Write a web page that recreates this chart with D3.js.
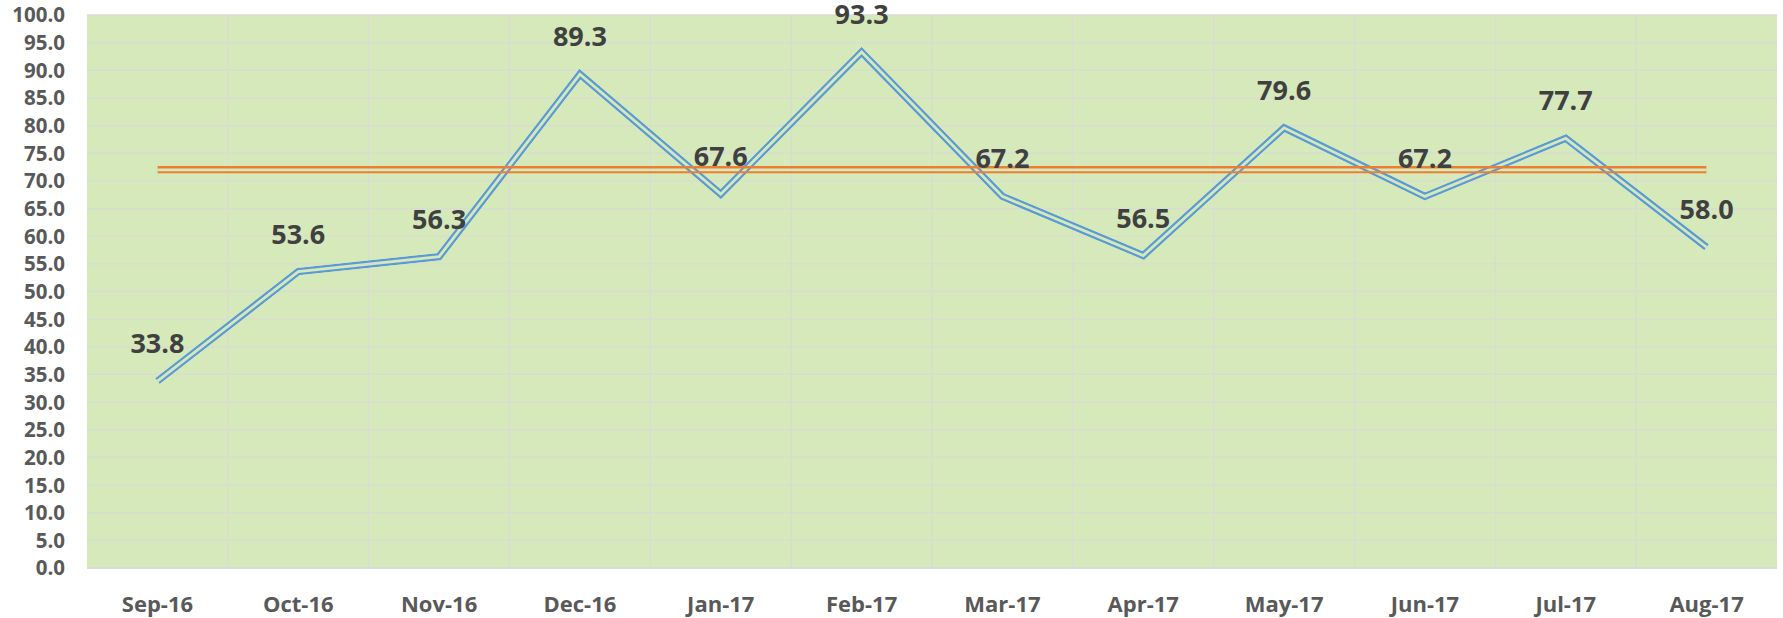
<!DOCTYPE html>
<html>
<head>
<meta charset="utf-8">
<script src="https://cdn.jsdelivr.net/npm/d3@7"></script>
<style>
  html, body { margin: 0; padding: 0; background: #ffffff; }
  svg { display: block; }
</style>
</head>
<body>
<svg id="chart" width="1783" height="618"></svg>
<script>
const categories = ["Sep-16","Oct-16","Nov-16","Dec-16","Jan-17","Feb-17","Mar-17","Apr-17","May-17","Jun-17","Jul-17","Aug-17"];
const values = [33.8, 53.6, 56.3, 89.3, 67.6, 93.3, 67.2, 56.5, 79.6, 67.2, 77.7, 58.0];
const targetValue = 72.0;
const yTicks = d3.range(0, 100.01, 5);

const W = 1783, H = 618;
const margin = {left: 87, top: 15, right: 6, bottom: 50};
const bg = "#d5e9bb";
const svg = d3.select("#chart");

const x = d3.scaleBand().domain(categories).range([margin.left, W - margin.right]).paddingInner(0).paddingOuter(0);
const y = d3.scaleLinear().domain([0, 100]).range([H - margin.bottom, margin.top]);
const cx = d => x(d) + x.bandwidth() / 2;

// plot background
svg.append("rect")
  .attr("x", x.range()[0]).attr("y", y(100))
  .attr("width", x.range()[1] - x.range()[0]).attr("height", y(0) - y(100))
  .attr("fill", bg);

// horizontal gridlines
svg.append("g").selectAll("line").data(yTicks).join("line")
  .attr("x1", x.range()[0]).attr("x2", x.range()[1])
  .attr("y1", d => y(d)).attr("y2", d => y(d))
  .attr("stroke", "#d9dcd2").attr("stroke-width", 1.3);

// vertical gridlines at category boundaries
svg.append("g").selectAll("line").data(categories.slice(1)).join("line")
  .attr("x1", d => x(d)).attr("x2", d => x(d))
  .attr("y1", y(0)).attr("y2", y(100))
  .attr("stroke", "#d9dcd2").attr("stroke-width", 1.3);

// bottom axis line
svg.append("line")
  .attr("x1", x.range()[0]).attr("x2", x.range()[1])
  .attr("y1", y(0)).attr("y2", y(0))
  .attr("stroke", "#d9d9d9").attr("stroke-width", 1.3);

// Y axis
const yAxis = d3.axisLeft(y).tickValues(yTicks).tickFormat(d3.format(".1f")).tickSize(0).tickPadding(22);
const gy = svg.append("g").attr("transform", `translate(${margin.left},0)`).call(yAxis);
gy.select(".domain").remove();
gy.selectAll("text")
  .attr("font-family", "'Open Sans', sans-serif").attr("font-weight", "bold")
  .attr("font-size", "20.5px").attr("fill", "#595959").attr("dy", "0.34em");

// X axis
const xAxis = d3.axisBottom(x).tickSize(0).tickPadding(28);
const gx = svg.append("g").attr("transform", `translate(0,${y(0)})`).call(xAxis);
gx.select(".domain").remove();
gx.selectAll("text")
  .attr("font-family", "'Open Sans', sans-serif").attr("font-weight", "bold")
  .attr("font-size", "22px").attr("fill", "#595959");

const defs = svg.append("defs");
const line = d3.line().x((d, i) => cx(categories[i])).y(d => y(d)).curve(d3.curveLinear);
const pathD = line(values);
const tX1 = cx(categories[0]), tX2 = cx(categories[categories.length - 1]);
const targetD = `M${tX1},${y(targetValue)}H${tX2}`;

// masks for compound (double) lines
function doubleMask(id, d) {
  const m = defs.append("mask").attr("id", id).attr("maskUnits", "userSpaceOnUse")
    .attr("x", 0).attr("y", 0).attr("width", W).attr("height", H);
  m.append("path").attr("d", d).attr("fill", "none").attr("stroke", "#fff")
    .attr("stroke-width", 7.5).attr("stroke-linejoin", "miter");
  m.append("path").attr("d", d).attr("fill", "none").attr("stroke", "#000")
    .attr("stroke-width", 2.8).attr("stroke-linejoin", "miter");
}
doubleMask("mBlue", pathD);
doubleMask("mOrange", targetD);

svg.append("path").attr("d", pathD).attr("fill", "none")
  .attr("stroke", "#5b9bd5").attr("stroke-width", 7.5).attr("stroke-linejoin", "miter")
  .attr("mask", "url(#mBlue)");

svg.append("path").attr("d", targetD).attr("fill", "none")
  .attr("stroke", "#ed7d31").attr("stroke-width", 7.5)
  .attr("mask", "url(#mOrange)");

// data labels
svg.append("g").selectAll("text").data(values).join("text")
  .attr("x", (d, i) => cx(categories[i]))
  .attr("y", d => y(d) - 28)
  .attr("text-anchor", "middle")
  .attr("font-family", "'Open Sans', sans-serif").attr("font-weight", "bold")
  .attr("font-size", "27px").attr("fill", "#404040")
  .text(d => d3.format(".1f")(d));
</script>
</body>
</html>
